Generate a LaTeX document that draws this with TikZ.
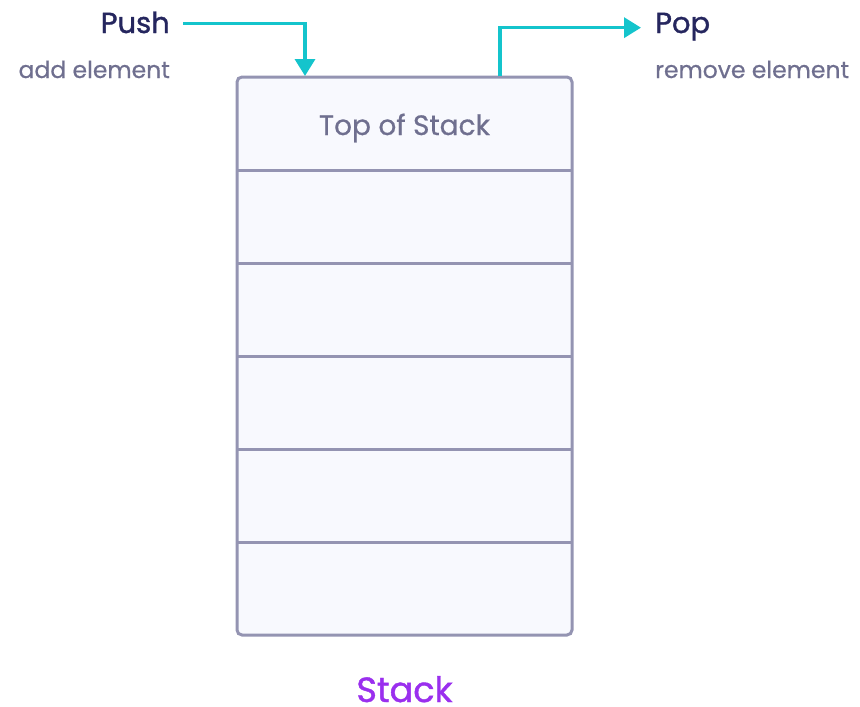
\documentclass[tikz,border=0pt]{standalone}
\usepackage{fontspec}
\setmainfont{Poppins}
\newfontfamily\popmed[FakeBold=1.2]{Poppins}
\newfontfamily\popsub[FakeBold=0.6]{Poppins}
\usetikzlibrary{arrows.meta}
\definecolor{navy}{HTML}{25265E}
\definecolor{grayt}{HTML}{6F6F8F}
\definecolor{cyanA}{HTML}{14C4CC}
\definecolor{boxline}{HTML}{9494B2}
\definecolor{boxfill}{HTML}{F8F9FE}
\definecolor{purp}{HTML}{9A2FEE}
\begin{document}
\begin{tikzpicture}[x=1pt,y=-1pt,
  stackbox/.style={draw=boxline, fill=boxfill, line width=3pt, rounded corners=5pt, inner sep=0pt},
  divider/.style={draw=boxline, line width=3pt},
  title/.style={text=navy, font=\popmed\fontsize{29}{34}\selectfont},
  sub/.style={text=grayt, font=\popsub\fontsize{23.5}{28}\selectfont},
  flow/.style={draw=cyanA, line width=3.5pt, -{Triangle[length=17pt,width=20pt]}},
]
\useasboundingbox (0,0) rectangle (860,707);
\node[stackbox, minimum width=335pt, minimum height=558pt] (stack) at (404.5,356) {};
\foreach \y in {170,263,356,449,542} \draw[divider] (237,\y) -- (572,\y);
\node[text=grayt, font=\popsub\fontsize{28}{33}\selectfont, anchor=base] (top) at (404.5,135) {Top of Stack};
\node[title, anchor=base east, inner sep=0pt] (push) at (170,33) {Push};
\node[sub, anchor=base east, inner sep=0pt] (addel) at (170,78) {add element};
\node[title, anchor=base west, inner sep=0pt] (pop) at (655,33) {Pop};
\node[sub, anchor=base west, inner sep=0pt] (remel) at (655,78) {remove element};
\node[text=purp, font=\popmed\fontsize{35}{40}\selectfont, anchor=base, inner sep=0pt] (lbl) at (404.5,702) {Stack};
\coordinate (pushin) at (305,76);
\coordinate (popout) at (500,76);
\draw[flow] ([xshift=13pt,yshift=-1pt]push.east) -| (pushin);
\draw[flow] (popout) |- ([xshift=-14pt,yshift=-1pt]pop.west);
\end{tikzpicture}
\end{document}
